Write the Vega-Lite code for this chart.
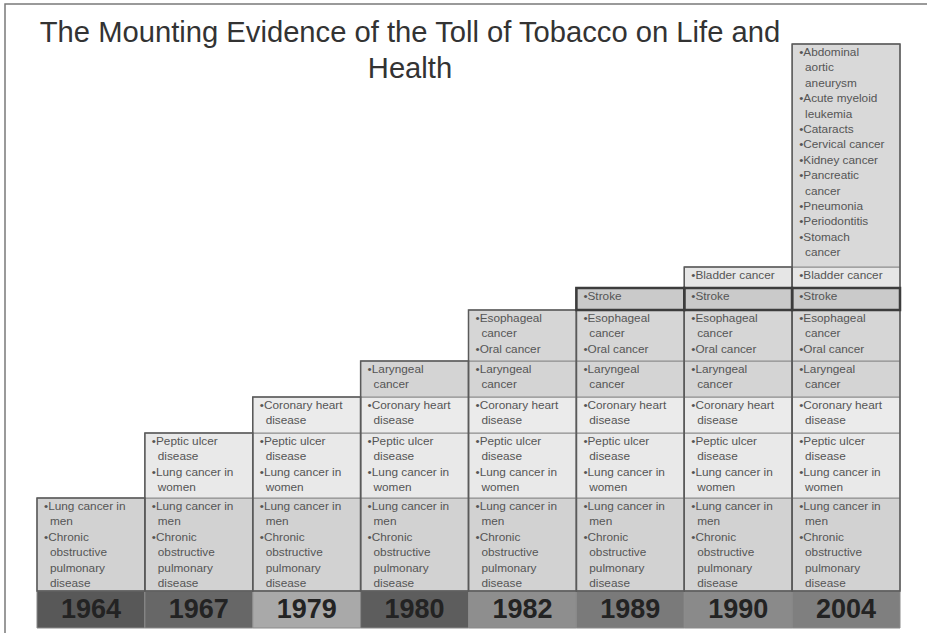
{
  "$schema": "https://vega.github.io/schema/vega-lite/v6.json",
  "width": 924,
  "height": 630,
  "autosize": {"type": "none"},
  "padding": {"left": 5, "top": 4, "right": 0, "bottom": 0},
  "background": "white",
  "config": {"view": {"stroke": "#7a7a7a", "strokeWidth": 1.5}},
  "title": {
    "text": ["The Mounting Evidence of the Toll of Tobacco on Life and", "Health"],
    "fontSize": 29.2,
    "font": "Liberation Sans",
    "fontWeight": "normal",
    "color": "#333333",
    "anchor": "middle",
    "frame": "group",
    "lineHeight": 36,
    "dx": -57,
    "baseline": "top",
    "offset": 0,
    "dy": 80
  },
  "datasets": {
    "levels": [
      {"level": 0, "h": 2.3125, "text": ""},
      {"level": 1, "h": 5.8125, "text": "•Lung cancer in\n\u200b\u2002men\n•Chronic\n\u200b\u2002obstructive\n\u200b\u2002pulmonary\n\u200b\u2002disease"},
      {"level": 2, "h": 4.0625, "text": "•Peptic ulcer\n\u200b\u2002disease\n•Lung cancer in\n\u200b\u2002women"},
      {"level": 3, "h": 2.25, "text": "•Coronary heart\n\u200b\u2002disease"},
      {"level": 4, "h": 2.25, "text": "•Laryngeal\n\u200b\u2002cancer"},
      {"level": 5, "h": 3.1875, "text": "•Esophageal\n\u200b\u2002cancer\n•Oral cancer"},
      {"level": 6, "h": 1.375, "text": "•Stroke"},
      {"level": 7, "h": 1.3125, "text": "•Bladder cancer"},
      {"level": 8, "h": 13.9375, "text": "•Abdominal\n\u200b\u2002aortic\n\u200b\u2002aneurysm\n•Acute myeloid\n\u200b\u2002leukemia\n•Cataracts\n•Cervical cancer\n•Kidney cancer\n•Pancreatic\n\u200b\u2002cancer\n•Pneumonia\n•Periodontitis\n•Stomach\n\u200b\u2002cancer"}
    ],
    "cells": [
      {"year": "1964", "level": 0}, {"year": "1964", "level": 1},
      {"year": "1967", "level": 0}, {"year": "1967", "level": 1}, {"year": "1967", "level": 2},
      {"year": "1979", "level": 0}, {"year": "1979", "level": 1}, {"year": "1979", "level": 2}, {"year": "1979", "level": 3},
      {"year": "1980", "level": 0}, {"year": "1980", "level": 1}, {"year": "1980", "level": 2}, {"year": "1980", "level": 3}, {"year": "1980", "level": 4},
      {"year": "1982", "level": 0}, {"year": "1982", "level": 1}, {"year": "1982", "level": 2}, {"year": "1982", "level": 3}, {"year": "1982", "level": 4}, {"year": "1982", "level": 5},
      {"year": "1989", "level": 0}, {"year": "1989", "level": 1}, {"year": "1989", "level": 2}, {"year": "1989", "level": 3}, {"year": "1989", "level": 4}, {"year": "1989", "level": 5}, {"year": "1989", "level": 6},
      {"year": "1990", "level": 0}, {"year": "1990", "level": 1}, {"year": "1990", "level": 2}, {"year": "1990", "level": 3}, {"year": "1990", "level": 4}, {"year": "1990", "level": 5}, {"year": "1990", "level": 6}, {"year": "1990", "level": 7},
      {"year": "2004", "level": 0}, {"year": "2004", "level": 1}, {"year": "2004", "level": 2}, {"year": "2004", "level": 3}, {"year": "2004", "level": 4}, {"year": "2004", "level": 5}, {"year": "2004", "level": 6}, {"year": "2004", "level": 7}, {"year": "2004", "level": 8}
    ]
  },
  "data": {"name": "cells"},
  "transform": [
    {"lookup": "level", "from": {"data": {"name": "levels"}, "key": "level", "fields": ["h", "text"]}},
    {"stack": "h", "groupby": ["year"], "sort": [{"field": "level", "order": "ascending"}], "as": ["y0", "y1"]}
  ],
  "layer": [
    {
      "transform": [{"filter": "datum.level > 0"}],
      "mark": {"type": "rect", "stroke": "#8c8c8c", "strokeWidth": 1},
      "encoding": {
        "x": {"field": "year", "type": "ordinal", "axis": null, "scale": {"paddingInner": 0, "paddingOuter": 0.2827, "align": 0.5246}},
        "y": {"field": "y0", "type": "quantitative", "axis": null, "scale": {"domain": [-0.375, 39], "nice": false, "zero": false}},
        "y2": {"field": "y1"},
        "fill": {"field": "level", "type": "nominal", "legend": null, "scale": {"domain": [1, 2, 3, 4, 5, 6, 7, 8], "range": ["#d2d2d2", "#e9e9e9", "#ebebeb", "#d4d4d4", "#d6d6d6", "#cacaca", "#e6e6e6", "#d9d9d9"]}}
      }
    },
    {
      "transform": [{"filter": "datum.level == 0"}],
      "mark": {"type": "rect", "stroke": "#8a8a8a", "strokeWidth": 1},
      "encoding": {
        "x": {"field": "year", "type": "ordinal", "axis": null},
        "y": {"field": "y0", "type": "quantitative", "axis": null},
        "y2": {"field": "y1"},
        "color": {"field": "year", "type": "nominal", "legend": null, "scale": {"domain": ["1964", "1967", "1979", "1980", "1982", "1989", "1990", "2004"], "range": ["#585858", "#676767", "#a9a9a9", "#5d5d5d", "#8e8e8e", "#7a7a7a", "#8a8a8a", "#7f7f7f"]}}
      }
    },
    {
      "transform": [
        {"filter": "datum.level > 0"},
        {"aggregate": [{"op": "min", "field": "y0", "as": "lo"}, {"op": "max", "field": "y1", "as": "hi"}], "groupby": ["year"]}
      ],
      "mark": {"type": "rect", "fillOpacity": 0, "stroke": "#5a5a5a", "strokeWidth": 1.5},
      "encoding": {
        "x": {"field": "year", "type": "ordinal", "axis": null},
        "y": {"field": "lo", "type": "quantitative", "axis": null},
        "y2": {"field": "hi"}
      }
    },
    {
      "transform": [{"filter": "datum.level == 6"}],
      "mark": {"type": "rect", "fillOpacity": 0, "stroke": "#3c3c3c", "strokeWidth": 2.5},
      "encoding": {
        "x": {"field": "year", "type": "ordinal", "axis": null},
        "y": {"field": "y0", "type": "quantitative", "axis": null},
        "y2": {"field": "y1"}
      }
    },
    {
      "transform": [{"filter": "datum.level > 0"}],
      "mark": {"type": "text", "align": "left", "baseline": "top", "dx": 7, "dy": 3, "fontSize": 11.8, "font": "Liberation Sans", "color": "#555555", "lineBreak": "\n", "lineHeight": 15.4},
      "encoding": {
        "x": {"field": "year", "type": "ordinal", "axis": null, "bandPosition": 0},
        "y": {"field": "y1", "type": "quantitative", "axis": null},
        "text": {"field": "text"}
      }
    },
    {
      "transform": [{"filter": "datum.level == 0"}],
      "mark": {"type": "text", "align": "center", "baseline": "middle", "dy": 18.5, "fontSize": 27, "fontWeight": "bold", "font": "Liberation Sans", "color": "#232323"},
      "encoding": {
        "x": {"field": "year", "type": "ordinal", "axis": null},
        "y": {"field": "y1", "type": "quantitative", "axis": null},
        "text": {"field": "year"}
      }
    }
  ]
}
